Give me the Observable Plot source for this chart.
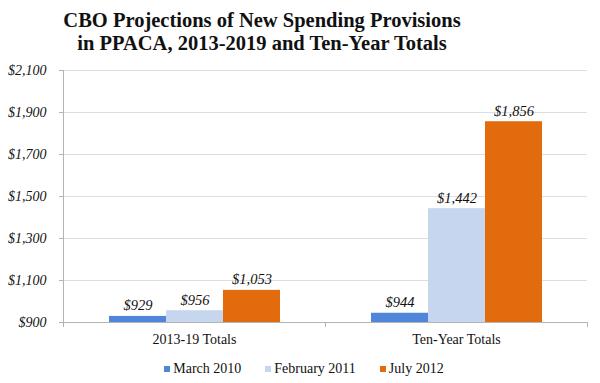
<!DOCTYPE html>
<html>
<head>
<meta charset="utf-8">
<script src="https://cdn.jsdelivr.net/npm/d3@7"></script>
<script src="https://cdn.jsdelivr.net/npm/@observablehq/plot@0.6"></script>
<style>
  html, body { margin: 0; padding: 0; background: #fff; }
  #wrap { width: 600px; height: 383px; overflow: hidden; font-family: "Liberation Serif", serif; color: #111; }
  #title { height: 62px; box-sizing: border-box; padding-top: 9px; padding-right: 76px; text-align: center; font-weight: bold; font-size: 20.5px; line-height: 23px; }
  #legend { height: 29px; display: flex; justify-content: center; align-items: center; font-size: 14px; padding-left: 8px; box-sizing: border-box; }
  #legend .item { display: flex; align-items: center; margin: 0 12px; }
  #legend .sw { width: 6px; height: 6px; margin-right: 3px; }
  svg { display: block; }
</style>
</head>
<body>
<div id="wrap">
  <div id="title">CBO Projections of New Spending Provisions<br>in PPACA, 2013-2019 and Ten-Year Totals</div>
  <div id="chart"></div>
  <div id="legend"></div>
</div>
<script>
const categories = ["2013-19 Totals", "Ten-Year Totals"];
const series = ["March 2010", "February 2011", "July 2012"];
const totals2013_19 = [929, 956, 1053];
const tenYearTotals = [944, 1442, 1856];
const yTicks = [900, 1100, 1300, 1500, 1700, 1900, 2100];
const colors = ["#4f86d9", "#c5d6ee", "#e26b0e"];

const valuesByCategory = [totals2013_19, tenYearTotals];
const data = categories.flatMap((c, i) => series.map((s, j) => ({category: c, series: s, value: valuesByCategory[i][j]})));
const fmt = v => "$" + d3.format(",")(v);
const axisColor = "#b3b3b3";

const chart = Plot.plot({
  width: 600,
  height: 292,
  marginTop: 8,
  marginBottom: 32,
  marginLeft: 62,
  marginRight: 13,
  style: {fontFamily: "Liberation Serif, serif", color: "#111", background: "#fff"},
  fx: {domain: categories, padding: 0, label: null},
  x: {domain: series, paddingInner: 0, paddingOuter: 0.76, axis: null},
  y: {domain: [yTicks[0], yTicks[yTicks.length - 1]], label: null},
  color: {domain: series, range: colors},
  marks: [
    Plot.gridY(yTicks, {stroke: "#dedede", strokeOpacity: 1}),
    Plot.barY(data, {fx: "category", x: "series", y1: yTicks[0], y2: "value", fill: "series"}),
    Plot.ruleY([yTicks[0]], {stroke: axisColor}),
    Plot.frame({anchor: "left", facetAnchor: "left", stroke: axisColor, insetBottom: -4}),
    Plot.frame({anchor: "right", stroke: axisColor, insetTop: 252, insetBottom: -4}),
    Plot.axisY(yTicks, {tickFormat: fmt, tickSize: 4, tickPadding: 13, stroke: axisColor, fill: "#111", fontSize: 14, fontStyle: "italic", label: null}),
    Plot.axisFx({anchor: "bottom", tickSize: 0, tickPadding: 12, fontSize: 14, fill: "#111", label: null}),
    Plot.text(data, {fx: "category", x: "series", y: "value", text: d => fmt(d.value), lineAnchor: "bottom", dy: -6, fontSize: 14.5, fontStyle: "italic", fill: "#111"})
  ]
});
document.getElementById("chart").appendChild(chart);

const legend = document.getElementById("legend");
series.forEach((s, i) => {
  const item = document.createElement("div");
  item.className = "item";
  const sw = document.createElement("span");
  sw.className = "sw";
  sw.style.background = colors[i];
  const t = document.createElement("span");
  t.textContent = s;
  item.appendChild(sw);
  item.appendChild(t);
  legend.appendChild(item);
});
</script>
</body>
</html>
